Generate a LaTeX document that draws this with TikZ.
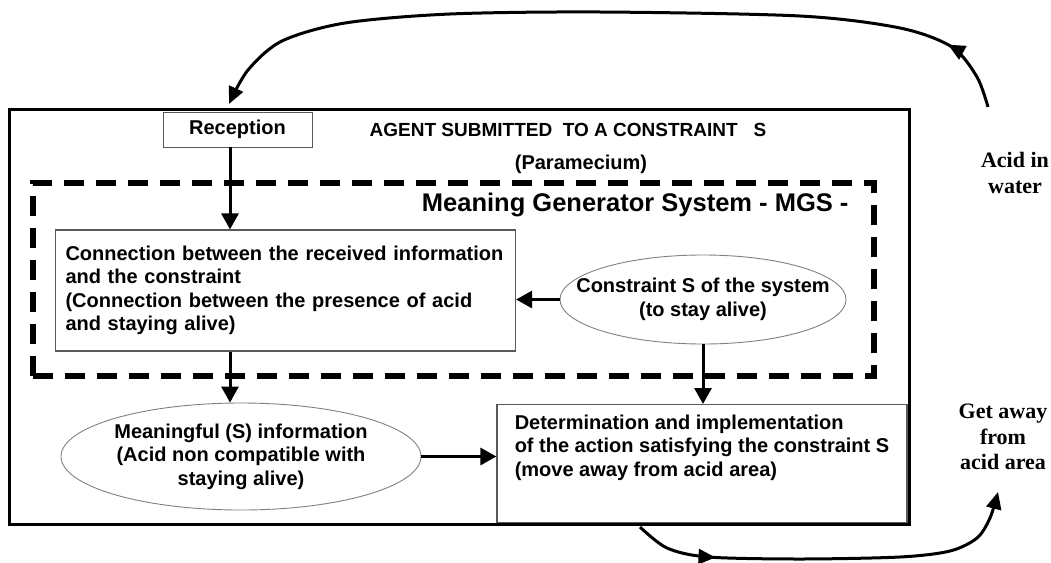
\documentclass[tikz,border=0pt]{standalone}
\usepackage{fontspec}
\setsansfont{Liberation Sans}
\setmainfont{Liberation Serif}
\usetikzlibrary{arrows.meta,shapes.geometric,decorations.markings}

\begin{document}
\begin{tikzpicture}[x=1pt,y=-1pt,
    box/.style={draw=gray!70!black,line width=1.2pt,inner sep=0pt},
    txt/.style={font=\sffamily\bfseries\fontsize{20}{23.5}\selectfont},
    oval/.style={ellipse,draw=gray,line width=0.9pt,inner xsep=-40pt,inner ysep=0pt,align=center,txt},
    arr/.style={line width=3pt,-{Triangle[length=16pt,width=17pt]}},
    flow/.style={line width=3pt,-{Triangle[length=17pt,width=15pt]},postaction={decorate}},
    side/.style={font=\rmfamily\bfseries\fontsize{22}{25.5}\selectfont,align=center}]

    \useasboundingbox (0,0) rectangle (1051,562);

    \node[draw,line width=3pt,minimum width=900pt,minimum height=415pt] (agent) at (459,316.5) {};
    \node[draw,line width=5.5pt,dash pattern=on 20pt off 12pt,minimum width=841pt,minimum height=193pt] (mgs) at (453.5,279.5) {};

    \node[box,line width=0.8pt,minimum width=149pt,minimum height=35pt,txt] (recep) at (237.5,129.5) {Reception};
    \node[anchor=base,font=\sffamily\bfseries\fontsize{19}{22}\selectfont] (title) at (568,136) {AGENT SUBMITTED\ \ TO A CONSTRAINT\ \ \ S};
    \node[txt,anchor=base] (param) at (581,169) {(Paramecium)};
    \node[font=\sffamily\bfseries\fontsize{25.5}{29}\selectfont,anchor=base east] (mgstitle) at (852,211) {Meaning Generator System - MGS -};

    \node[box,txt,align=left,text width=440pt,inner xsep=10pt,minimum height=121pt] (conn) at (285.5,290.5) {Connection between the received information\\and the constraint\\(Connection between the presence of acid\\and staying alive)};
    \node[oval,minimum width=286pt,minimum height=89pt] (cons) at (703,299.5) {Constraint S of the system\\(to stay alive)};
    \node[box,txt,align=left,minimum width=410pt,inner ysep=10pt,text depth=36pt,anchor=north] (det) at (702,404) {Determination and implementation\\of the action satisfying the constraint S\\(move away from acid area)};
    \node[oval,minimum width=360pt,minimum height=107pt] (mean) at (241,456.5) {Meaningful (S) information\\(Acid non compatible with\\staying alive)};

    \node[side] (acid) at (1015,173) {Acid in\\water};
    \node[side] (away) at (1003,437) {Get away\\from\\acid area};

    \coordinate (col) at (230,0);
    \coordinate (acidsrc) at (988,107);
    \coordinate (intop) at (229,104);
    \coordinate (detout) at (640,527);
    \coordinate (awaytip) at (998,492);

    \draw[arr] (recep.south -| col) -- (conn.north -| col);
    \draw[arr] (conn.south -| col) -- (mean.north -| col);
    \draw[arr] (cons.west) -- (cons.west -| conn.east);
    \draw[arr] (cons.south) -- (cons.south |- det.north);
    \draw[arr] (mean.east) -- (mean.east -| det.west);

    \draw[flow,decoration={markings,mark=at position 76pt with {\arrow{Triangle[length=17pt,width=15pt]}}}]
        plot[smooth] coordinates {(acidsrc) (977,77) (952,47) (900,28) (800,16) (600,12) (450,14) (345,23) (282,41) (248,70) (intop)};
    \draw[flow,decoration={markings,mark=at position 84pt with {\arrow{Triangle[length=17pt,width=15pt]}}}]
        plot[smooth] coordinates {(detout) (667,548) (708,557) (800,559) (900,557) (950,551) (977,538) (990,518) (awaytip)};
\end{tikzpicture}
\end{document}
